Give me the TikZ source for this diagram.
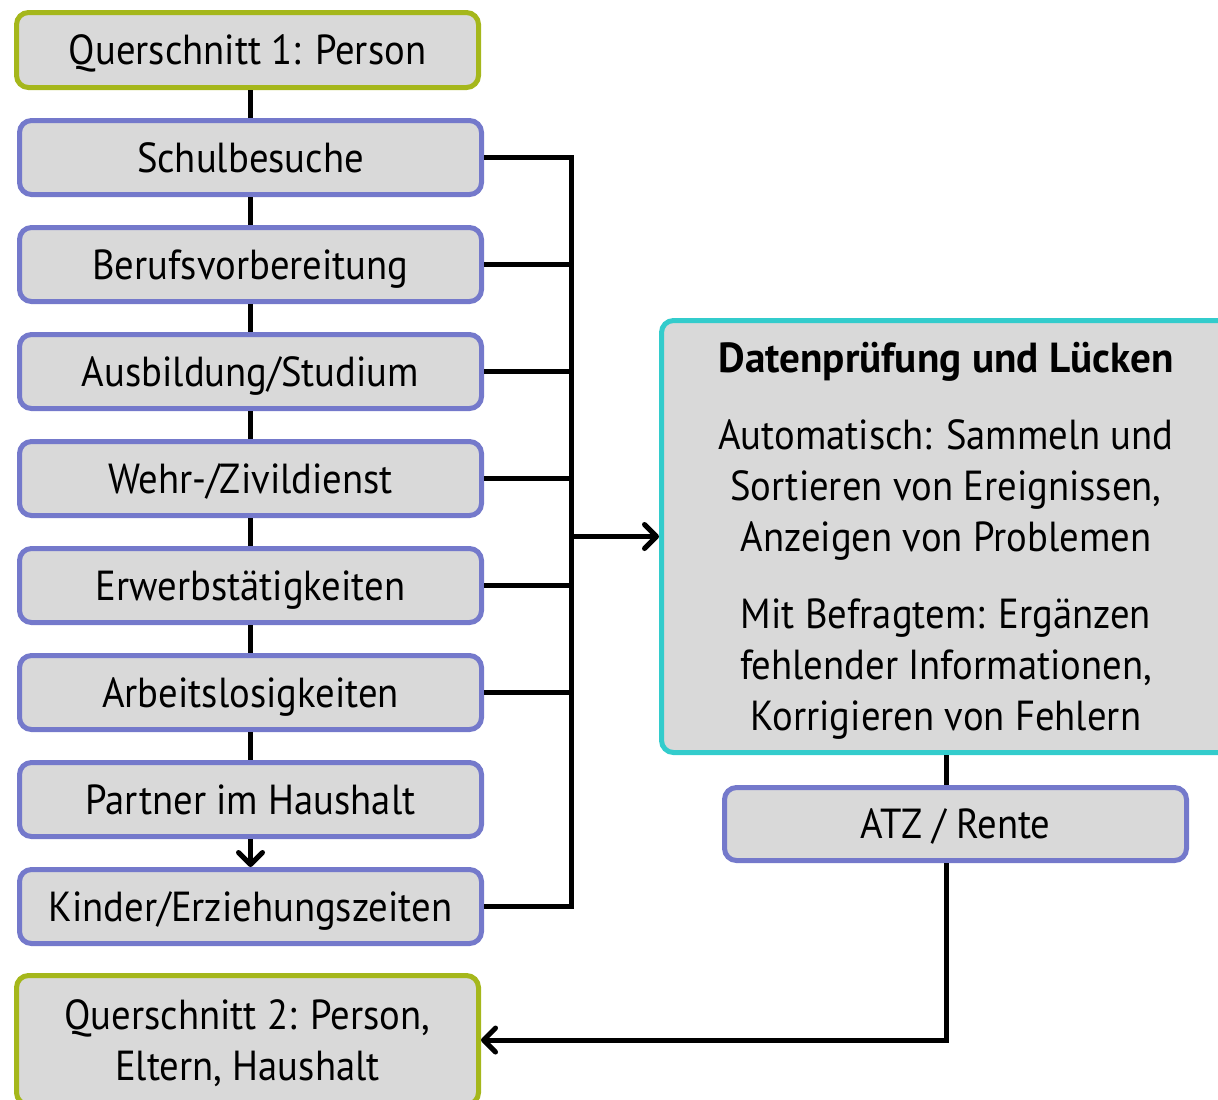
\documentclass[tikz,border=0pt]{standalone}
\usepackage{fontspec}
\setmainfont[FakeStretch=0.92,BoldFeatures={FakeStretch=0.98}]{PT Sans}
\usetikzlibrary{arrows.meta}
\definecolor{boxgray}{HTML}{D9D9D9}
\definecolor{qgreen}{HTML}{A5B71B}
\definecolor{evblue}{HTML}{7479CB}
\definecolor{chkteal}{HTML}{33CCCC}
\begin{document}
\begin{tikzpicture}[x=0.5pt,y=-0.5pt,
	every node/.style={draw,rounded corners=6pt,fill=boxgray,line width=2.5pt,inner sep=0pt,
		font=\fontsize{21}{25.5}\selectfont},
	qbox/.style={draw=qgreen,minimum width=231pt,minimum height=37.5pt,text height=16pt,text depth=1.5pt},
	evbox/.style={draw=evblue,minimum width=231pt,minimum height=37pt,text height=16pt,text depth=1.5pt},
	link/.style={line width=2.5pt},
	arr/.style={link,-{Straight Barb[length=6pt,width=12pt,round]}}]
	\useasboundingbox (0,0) rectangle (1218,1099);
	% left column
	\node[qbox] (q1) at (247.5,50){Querschnitt 1: Person};
	\node[evbox] (sb) at (250.5,157.5){Schulbesuche};
	\node[evbox] (bv) at (250.5,264.5){Berufsvorbereitung};
	\node[evbox] (as) at (250.5,371.5){Ausbildung/Studium};
	\node[evbox] (wz) at (250.5,478.5){Wehr-/Zivildienst};
	\node[evbox] (ew) at (250.5,585.5){Erwerbstätigkeiten};
	\node[evbox] (al) at (250.5,692.5){Arbeitslosigkeiten};
	\node[evbox] (pa) at (250.5,799.5){Partner im Haushalt};
	\node[evbox] (kz) at (250.5,906.5){Kinder/Erziehungszeiten};
	\node[qbox,minimum height=64.5pt,align=center,text height=,text depth=0pt] (q2) at (247.5,1040){Querschnitt 2: Person,\\Eltern, Haushalt};
	% right column
	\node[draw=chkteal,minimum width=284.5pt,minimum height=216pt,align=center,text depth=0pt] (dp) at (946,536.5)
		{\textbf{Datenprüfung und Lücken}\\[13pt]
		Automatisch: Sammeln und\\Sortieren von Ereignissen,\\Anzeigen von Problemen\\[13pt]
		Mit Befragtem: Ergänzen\\fehlender Informationen,\\Korrigieren von Fehlern};
	\node[evbox,minimum height=36.5pt] (atz) at (955.5,824){ATZ / Rente};
	\coordinate (bt) at (571,157.5);
	\coordinate (bm) at (571,536.5);
	\coordinate (bb) at (571,906.5);
	\draw[link] (sb.north) -- (sb.north |- q1.south);
	\draw[link] (sb)--(bv)--(as)--(wz)--(ew)--(al)--(pa);
	\draw[arr] (pa)--(kz);
	\draw[link] (sb.east)--(bt)--(bb)--(kz.east);
	\draw[link] (bv.east)--(bv.east -| bt);
	\draw[link] (as.east)--(as.east -| bt);
	\draw[link] (wz.east)--(wz.east -| bt);
	\draw[link] (ew.east)--(ew.east -| bt);
	\draw[link] (al.east)--(al.east -| bt);
	\draw[arr] (bm)--(dp.west);
	\draw[link] (dp.south)--(dp.south |- atz.north);
	\draw[arr] (atz.south -| dp.south) |- (q2.east);
\end{tikzpicture}
\end{document}
